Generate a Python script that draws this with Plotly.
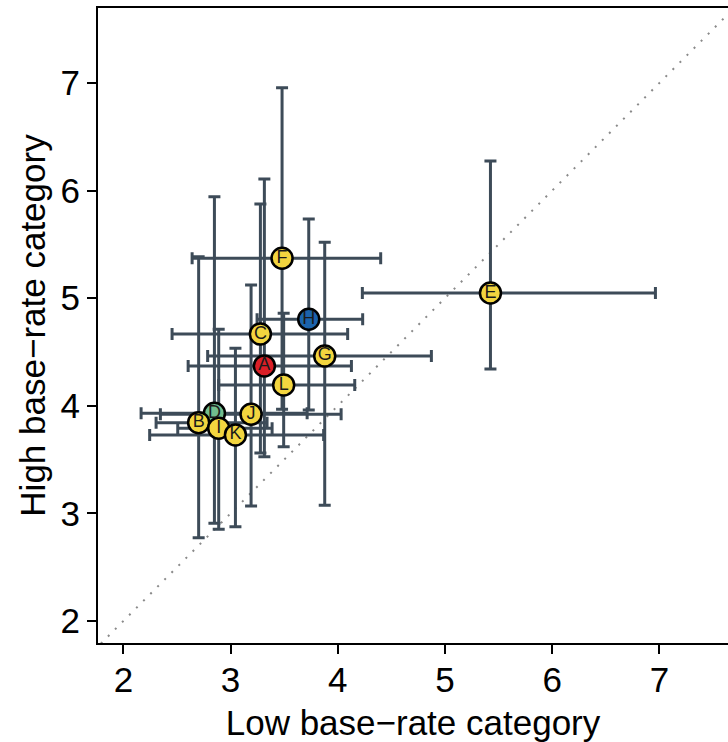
import plotly.graph_objects as go

# Data
labels = ["D", "A", "B", "C", "E", "F", "G", "H", "I", "J", "K", "L"]
colors = ["#72BE8E", "#DA1F27", "#F3D53F", "#F3D53F", "#F3D53F", "#F3D53F",
          "#F3D53F", "#1B63AB", "#F3D53F", "#F3D53F", "#F3D53F", "#F3D53F"]
low_mean = [2.849, 3.315, 2.702, 3.278, 5.424, 3.480, 3.878, 3.729, 2.889, 3.191, 3.045, 3.495]
high_mean = [3.930, 4.370, 3.843, 4.667, 5.048, 5.371, 4.463, 4.804, 3.791, 3.921, 3.729, 4.193]
low_lo = [2.165, 2.604, 2.305, 2.454, 4.229, 2.641, 2.786, 3.247, 2.507, 2.345, 2.245, 2.889]
low_hi = [3.714, 4.127, 3.340, 4.092, 6.963, 4.400, 4.873, 4.232, 3.387, 4.031, 3.868, 4.158]
high_lo = [2.908, 3.527, 2.774, 3.560, 4.342, 3.967, 3.075, 3.961, 2.852, 3.069, 2.876, 3.620]
high_hi = [5.943, 6.108, 5.386, 5.875, 6.275, 6.956, 5.519, 5.736, 4.711, 5.123, 4.534, 4.860]

tick_vals = [2, 3, 4, 5, 6, 7]
diag = [1.0, 8.5]
x_range = [1.763, 7.64]
y_range = [1.795, 7.697]

err_col = "#3D4B58"
fig = go.Figure()

fig.add_trace(go.Scatter(
    x=diag, y=diag, mode="lines",
    line=dict(color="#8A8A8A", width=2, dash="2px,8px"),
    hoverinfo="skip", showlegend=False))

fig.add_trace(go.Scatter(
    x=low_mean, y=high_mean, mode="markers+text",
    text=labels, textposition="middle center",
    textfont=dict(family="Liberation Sans, Arial", size=18, color="#1a1a1a"),
    marker=dict(size=21, color=colors, line=dict(color="black", width=2.5)),
    error_x=dict(type="data", symmetric=False,
                 array=[h - m for h, m in zip(low_hi, low_mean)],
                 arrayminus=[m - l for l, m in zip(low_lo, low_mean)],
                 color=err_col, thickness=3, width=6),
    error_y=dict(type="data", symmetric=False,
                 array=[h - m for h, m in zip(high_hi, high_mean)],
                 arrayminus=[m - l for l, m in zip(high_lo, high_mean)],
                 color=err_col, thickness=3, width=6),
    showlegend=False, cliponaxis=False))

tick_font = dict(family="Liberation Sans, Arial", size=35, color="black")
title_font = dict(family="Liberation Sans, Arial", size=35, color="black")
fig.update_layout(
    width=728, height=742,
    margin=dict(l=98, r=0, t=8, b=99),
    paper_bgcolor="white", plot_bgcolor="white",
    xaxis=dict(range=x_range, tickvals=tick_vals, ticks="outside", ticklen=9,
               tickwidth=2, tickcolor="black", showline=True, linecolor="black",
               linewidth=2, mirror=True, showgrid=False, zeroline=False,
               tickfont=tick_font, ticklabelstandoff=-4,
               title=dict(text="Low base\u2212rate category", font=title_font, standoff=16)),
    yaxis=dict(range=y_range, tickvals=tick_vals, ticks="outside", ticklen=9,
               tickwidth=2, tickcolor="black", showline=True, linecolor="black",
               linewidth=2, showgrid=False, zeroline=False,
               tickfont=tick_font,
               title=dict(text="High base\u2212rate category", font=title_font, standoff=4)),
)

fig.write_html("out.html")
